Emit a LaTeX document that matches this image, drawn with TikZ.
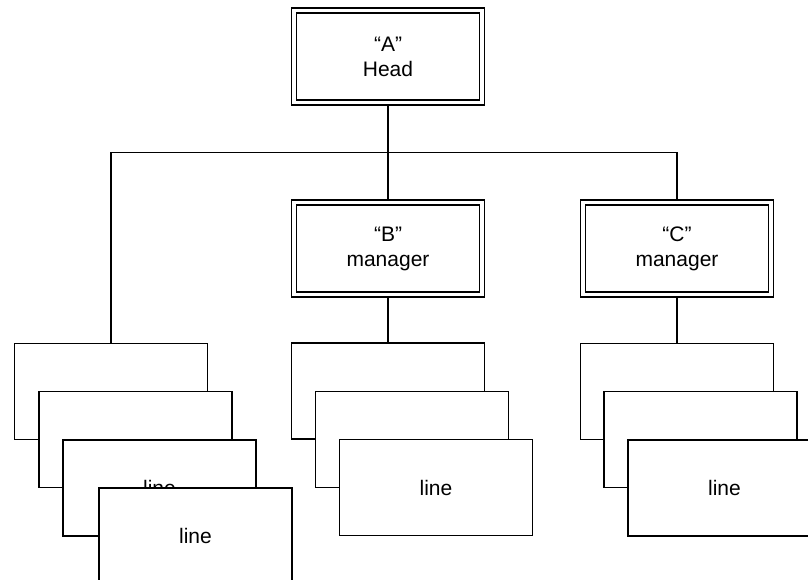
\documentclass[tikz,border=0pt]{standalone}
\usepackage{fontspec}
\setmainfont{Liberation Sans}
\usetikzlibrary{backgrounds}
\begin{document}
\begin{tikzpicture}[x=1pt,y=-1pt,
  every node/.style={font=\fontsize{21}{25}\selectfont, align=center, inner sep=0pt},
  chief/.style={draw, fill=white, line width=1.5pt, double, double distance=3.5pt,
    minimum width=188pt, minimum height=92pt},
  staffbox/.style={draw, fill=white, line width=1.9pt,
    minimum width=193pt, minimum height=96pt},
  link/.style={line width=1.9pt}]
  \clip (0,0) rectangle (808,580);
  \useasboundingbox (0,0) rectangle (808,580);

  % management
  \node[chief] (A) at (388,56.5) {“A”\\Head};
  \node[chief] (B) at (388,248.5) {“B”\\manager};
  \node[chief] (C) at (677,248.5) {“C”\\manager};

  % staff stack under the head
  \node[staffbox] (L1) at (111,391.5) {};
  \node[staffbox] (L2) at (135.5,439.5) {};
  \node[staffbox] (L3) at (159.5,488) {line};
  \node[staffbox] (L4) at (195.5,536) {line};

  % staff stack under B
  \node[staffbox] (B1) at (388,391) {};
  \node[staffbox] (B2) at (412,439.5) {};
  \node[staffbox] (B3) at (436,487.5) {line};

  % staff stack under C
  \node[staffbox] (C1) at (677,391.5) {};
  \node[staffbox] (C2) at (700.5,439.5) {};
  \node[staffbox] (C3) at (724.5,488) {line};

  \coordinate (bar) at (0,152.5);

  \begin{pgfonlayer}{background}
    \draw[link] (A.center) -- (B.center);
    \draw[link] (L1.center) |- (C.north |- bar) -- (C.center);
    \draw[link] (B.center) -- (B1.center);
    \draw[link] (C.center) -- (C1.center);
  \end{pgfonlayer}
\end{tikzpicture}
\end{document}
